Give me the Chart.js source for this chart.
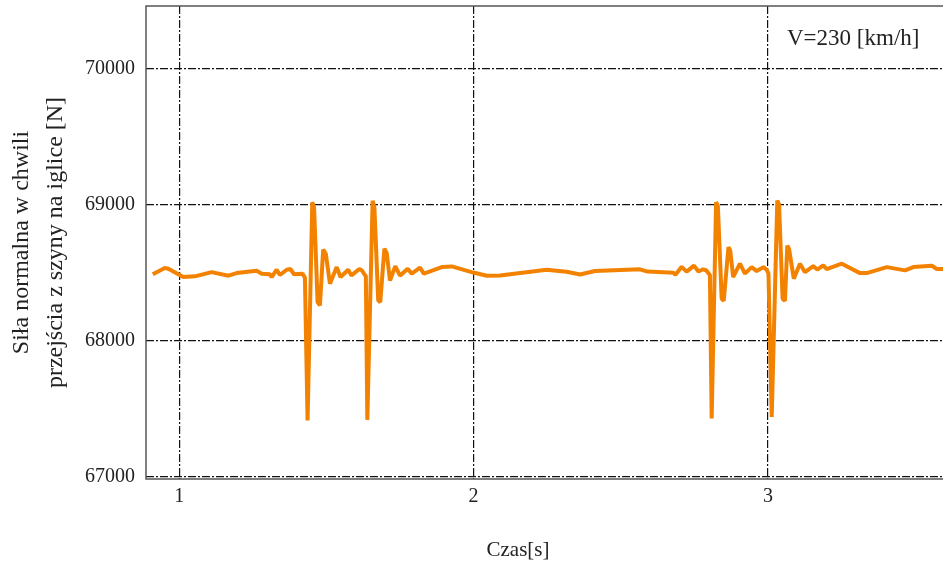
<!DOCTYPE html>
<html>
<head>
<meta charset="utf-8">
<script src="https://cdn.jsdelivr.net/npm/chart.js@4/dist/chart.umd.min.js"></script>
<style>
  html, body { margin: 0; padding: 0; background: #fff; }
  #wrap { width: 943px; height: 564px; }
</style>
</head>
<body>
<div id="wrap"><canvas id="sila"></canvas></div>
<script>
// czas [s] i sila normalna [N]
const czas = [
  0.910, 0.951, 0.963, 1.014, 1.053, 1.110, 1.167, 1.195, 1.263, 1.280,
  1.308, 1.314, 1.331, 1.342, 1.365, 1.378, 1.390, 1.419, 1.427, 1.436,
  1.452, 1.458, 1.470, 1.478, 1.489, 1.498, 1.512, 1.535, 1.548, 1.574,
  1.585, 1.612, 1.620, 1.634, 1.639, 1.657, 1.663, 1.676, 1.683, 1.697,
  1.705, 1.716, 1.734, 1.750, 1.776, 1.790, 1.818, 1.831, 1.892, 1.926,
  1.999, 2.045, 2.090, 2.248, 2.316, 2.362, 2.412, 2.565, 2.591, 2.679,
  2.686, 2.707, 2.724, 2.749, 2.764, 2.780, 2.790, 2.803, 2.809, 2.824,
  2.830, 2.843, 2.850, 2.866, 2.872, 2.882, 2.905, 2.922, 2.945, 2.962,
  2.985, 2.996, 3.002, 3.013, 3.032, 3.038, 3.050, 3.058, 3.066, 3.072,
  3.088, 3.109, 3.126, 3.154, 3.168, 3.188, 3.200, 3.251, 3.313, 3.336,
  3.404, 3.466, 3.494, 3.557, 3.574, 3.595
];
const sila = [
  68485, 68531, 68526, 68465, 68470, 68501, 68475, 68494, 68511, 68490,
  68485, 68465, 68519, 68480, 68519, 68524, 68485, 68490, 68460, 67410,
  69015, 68979, 68281, 68257, 68666, 68636, 68416, 68538, 68465, 68519,
  68477, 68524, 68515, 68470, 67415, 69025, 68980, 68294, 68280, 68673,
  68640, 68440, 68545, 68475, 68526, 68490, 68534, 68490, 68538, 68543,
  68498, 68475, 68476, 68519, 68504, 68484, 68509, 68522, 68505, 68496,
  68482, 68540, 68505, 68549, 68506, 68522, 68515, 68480, 67425, 69015,
  68990, 68306, 68290, 68685, 68660, 68465, 68563, 68490, 68538, 68509,
  68538, 68519, 68490, 67437, 69028, 69000, 68306, 68290, 68697, 68670,
  68453, 68563, 68501, 68545, 68520, 68551, 68524, 68563, 68494, 68494,
  68538, 68514, 68538, 68548, 68524, 68524
];
const xTicks = [1, 2, 3];
const yTicks = [67000, 68000, 69000, 70000];

const FONT = 'Liberation Serif';

const ramka = {
  id: 'ramka',
  afterDraw(chart) {
    const { ctx, chartArea: a } = chart;
    ctx.save();
    ctx.strokeStyle = '#555';
    ctx.lineWidth = 1.5;
    ctx.strokeRect(a.left, a.top, a.right - a.left + 5, a.bottom - a.top);
    ctx.fillStyle = '#222';
    ctx.font = '23px "' + FONT + '"';
    ctx.textAlign = 'left';
    ctx.textBaseline = 'alphabetic';
    ctx.fillText('V=230 [km/h]', 787, 45);
    ctx.font = '21px "' + FONT + '"';
    ctx.textAlign = 'center';
    ctx.textBaseline = 'middle';
    ctx.fillText('Czas[s]', 518, 550);
    ctx.restore();
  }
};

const siatka = {
  color: '#111',
  lineWidth: 1.2,
  drawTicks: false
};

new Chart(document.getElementById('sila').getContext('2d'), {
  type: 'line',
  data: {
    datasets: [{
      data: czas.map((t, i) => ({ x: t, y: sila[i] })),
      borderColor: '#F28200',
      borderWidth: 4,
      borderJoinStyle: 'bevel',
      pointRadius: 0,
      tension: 0,
      fill: false
    }]
  },
  options: {
    responsive: true,
    maintainAspectRatio: false,
    animation: false,
    layout: { padding: { top: 6, right: 0, left: 0, bottom: 0 } },
    plugins: {
      legend: { display: false },
      tooltip: { enabled: false }
    },
    scales: {
      x: {
        type: 'linear',
        min: 0.887,
        max: 3.595,
        afterBuildTicks: (s) => { s.ticks = xTicks.map(v => ({ value: v })); },
        afterFit: (s) => { s.height = 85; s.paddingLeft = 0; s.paddingRight = 0; },
        grid: siatka,
        border: { display: false, dash: [8, 2, 2, 2] },
        ticks: {
          color: '#222',
          padding: 6,
          maxRotation: 0,
          font: { family: FONT, size: 20 },
          callback: (v) => String(v)
        }
      },
      y: {
        min: 66980,
        max: 70458,
        afterBuildTicks: (s) => { s.ticks = yTicks.map(v => ({ value: v })); },
        afterFit: (s) => { s.width = 146; s.paddingTop = 0; s.paddingBottom = 0; },
        grid: siatka,
        border: { display: false, dash: [8, 2, 2, 2] },
        ticks: {
          color: '#222',
          padding: 11,
          font: { family: FONT, size: 20 },
          callback: (v) => String(v)
        },
        title: {
          display: true,
          text: ['Siła normalna w chwili', 'przejścia z szyny na iglice [N]'],
          color: '#222',
          font: { family: FONT, size: 24, lineHeight: 1.42 },
          padding: { top: 5, bottom: 0 }
        }
      }
    }
  },
  plugins: [ramka]
});
</script>
</body>
</html>
